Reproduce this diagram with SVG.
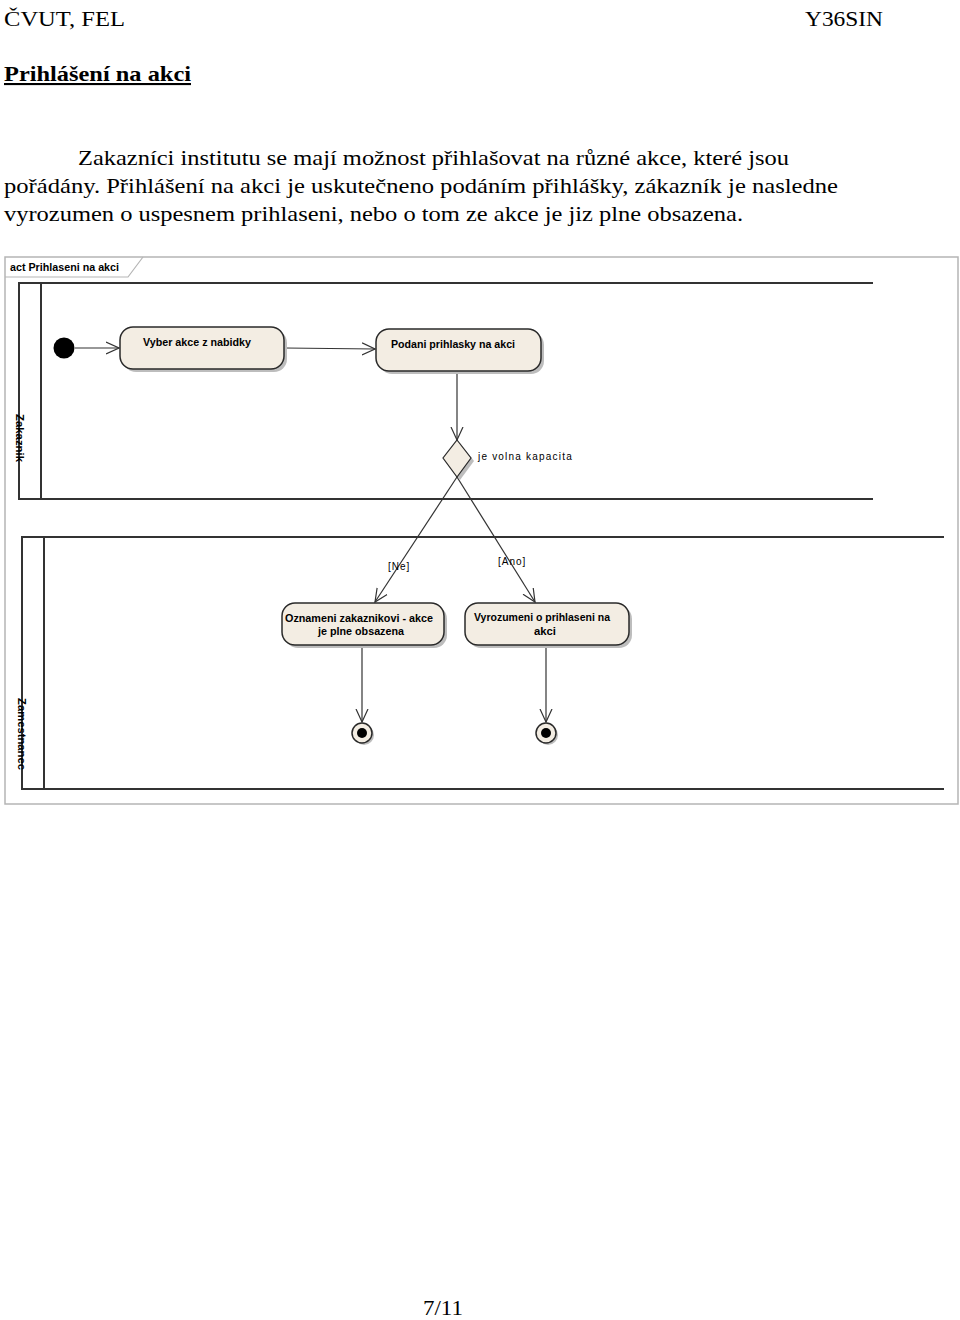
<svg xmlns="http://www.w3.org/2000/svg" width="960" height="1320" viewBox="0 0 960 1320">
<style>
.doc{font-family:"Liberation Serif","Times New Roman",serif;fill:#000}
.d{font-family:"Liberation Sans",Arial,sans-serif;fill:#000}
.act{fill:#F3EDE3;stroke:#2a2a2a;stroke-width:1.5}
.shadow{fill:#bdbdbd}
.lane{fill:none;stroke:#333;stroke-width:2}
.edge{fill:none;stroke:#333;stroke-width:1.2}
</style>
<defs>
<marker id="open" viewBox="0 0 14 14" refX="13" refY="7" markerWidth="14" markerHeight="14" markerUnits="userSpaceOnUse" orient="auto">
<path d="M0,1 L13,7 L0,13" fill="none" stroke="#333" stroke-width="1.2"/>
</marker>
</defs>
<rect width="960" height="1320" fill="#fff"/>
<text class="doc" x="4" y="26" font-size="22" textLength="121" lengthAdjust="spacingAndGlyphs">ČVUT, FEL</text>
<text class="doc" x="805" y="26" font-size="22" textLength="78" lengthAdjust="spacingAndGlyphs">Y36SIN</text>
<text class="doc" x="4" y="81" font-size="21" font-weight="bold" text-decoration="underline" textLength="187" lengthAdjust="spacingAndGlyphs">Prihlášení na akci</text>
<text class="doc" x="78" y="165" font-size="21" textLength="711" lengthAdjust="spacingAndGlyphs">Zakazníci institutu se mají možnost přihlašovat na různé akce, které jsou</text>
<text class="doc" x="4" y="193" font-size="21" textLength="834" lengthAdjust="spacingAndGlyphs">pořádány. Přihlášení na akci je uskutečneno podáním přihlášky, zákazník je nasledne</text>
<text class="doc" x="4" y="221" font-size="21" textLength="739" lengthAdjust="spacingAndGlyphs">vyrozumen o uspesnem prihlaseni, nebo o tom ze akce je jiz plne obsazena.</text>
<text class="doc" x="423" y="1315" font-size="21" textLength="40" lengthAdjust="spacingAndGlyphs">7/11</text>

<g id="frame">
<rect x="5" y="257" width="953" height="547" fill="none" stroke="#b5b5b5" stroke-width="1.5"/>
<path d="M5,277 L128,277 L143,257" fill="none" stroke="#b5b5b5" stroke-width="1.2"/>
<text class="d" x="10" y="271" font-size="11" font-weight="bold" textLength="109" lengthAdjust="spacingAndGlyphs">act Prihlaseni na akci</text>
</g>

<g id="lane-zakaznik">
<path class="lane" d="M873,283 L19,283 L19,499 L873,499 M41,283 L41,499"/>
<text class="d" transform="translate(16,414) rotate(90)" font-size="11" font-weight="bold" textLength="48" lengthAdjust="spacingAndGlyphs">Zakaznik</text>
</g>
<g id="lane-zamestnanec">
<path class="lane" d="M944,537 L22,537 L22,789 L944,789 M44,537 L44,789"/>
<text class="d" transform="translate(18,698) rotate(90)" font-size="11" font-weight="bold" textLength="72" lengthAdjust="spacingAndGlyphs">Zamestnanec</text>
</g>

<g id="connectors">
<line class="edge" x1="75" y1="348" x2="119" y2="348" marker-end="url(#open)"/>
<line class="edge" x1="285" y1="348" x2="375" y2="349" marker-end="url(#open)"/>
<line class="edge" x1="457" y1="372" x2="457" y2="440" marker-end="url(#open)"/>
<line class="edge" x1="457" y1="477" x2="375" y2="602" marker-end="url(#open)"/>
<line class="edge" x1="457" y1="477" x2="535" y2="602" marker-end="url(#open)"/>
<line class="edge" x1="362" y1="646" x2="362" y2="722" marker-end="url(#open)"/>
<line class="edge" x1="546" y1="646" x2="546" y2="722" marker-end="url(#open)"/>
<text class="d" x="388" y="570" font-size="10" letter-spacing="1">[Ne]</text>
<text class="d" x="498" y="565" font-size="10" letter-spacing="1">[Ano]</text>
</g>

<g id="start">
<circle cx="64" cy="348" r="10.5" fill="#000"/>
</g>

<g id="vyber">
<rect class="shadow" x="123" y="330" width="164" height="42" rx="13"/>
<rect class="act" x="120" y="327" width="164" height="42" rx="13"/>
<text class="d" x="197" y="346" font-size="11" font-weight="bold" text-anchor="middle" textLength="108" lengthAdjust="spacingAndGlyphs">Vyber akce z nabidky</text>
</g>

<g id="podani">
<rect class="shadow" x="379" y="332" width="165" height="42" rx="13"/>
<rect class="act" x="376" y="329" width="165" height="42" rx="13"/>
<text class="d" x="453" y="348" font-size="11" font-weight="bold" text-anchor="middle" textLength="124" lengthAdjust="spacingAndGlyphs">Podani prihlasky na akci</text>
</g>

<g id="decision">
<path class="shadow" d="M460,443 L474,461 L460,480 L446,461 Z"/>
<path d="M457,440 L471,458 L457,477 L443,458 Z" fill="#F3EDE3" stroke="#2a2a2a" stroke-width="1.2"/>
<text class="d" x="478" y="460" font-size="10" letter-spacing="1.2">je volna kapacita</text>
</g>

<g id="oznameni">
<rect class="shadow" x="285" y="606" width="162" height="42" rx="13"/>
<rect class="act" x="282" y="603" width="162" height="42" rx="13"/>
<text class="d" x="359" y="622" font-size="11" font-weight="bold" text-anchor="middle" textLength="148" lengthAdjust="spacingAndGlyphs">Oznameni zakaznikovi - akce</text>
<text class="d" x="361" y="635" font-size="11" font-weight="bold" text-anchor="middle" textLength="86" lengthAdjust="spacingAndGlyphs">je plne obsazena</text>
</g>

<g id="vyrozumeni">
<rect class="shadow" x="468" y="606" width="164" height="42" rx="13"/>
<rect class="act" x="465" y="603" width="164" height="42" rx="13"/>
<text class="d" x="542" y="621" font-size="11" font-weight="bold" text-anchor="middle" textLength="136" lengthAdjust="spacingAndGlyphs">Vyrozumeni o prihlaseni na</text>
<text class="d" x="545" y="635" font-size="11" font-weight="bold" text-anchor="middle" textLength="22" lengthAdjust="spacingAndGlyphs">akci</text>
</g>

<g id="end1">
<circle cx="364" cy="735" r="10" fill="#bdbdbd"/>
<circle cx="362" cy="733" r="10" fill="#F3EDE3" stroke="#2a2a2a" stroke-width="1.5"/>
<circle cx="362" cy="733" r="5" fill="#000"/>
</g>
<g id="end2">
<circle cx="548" cy="735" r="10" fill="#bdbdbd"/>
<circle cx="546" cy="733" r="10" fill="#F3EDE3" stroke="#2a2a2a" stroke-width="1.5"/>
<circle cx="546" cy="733" r="5" fill="#000"/>
</g>
</svg>
